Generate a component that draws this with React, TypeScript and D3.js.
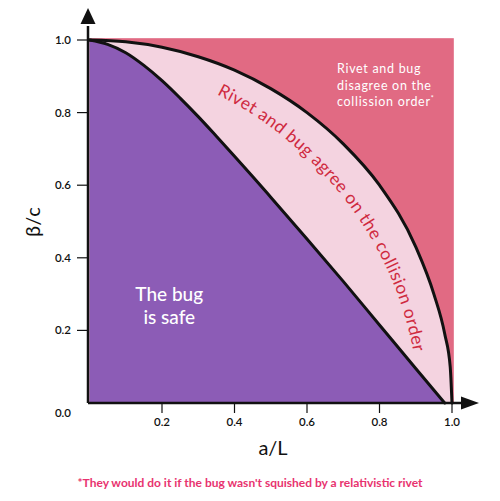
import React from 'react';
import * as d3 from 'd3';

// boundary where rivet and bug stop agreeing
const outerA = [0, 0.1, 0.2, 0.3, 0.4, 0.5, 0.6, 0.7, 0.8, 0.9, 0.95, 0.98, 0.995, 1.0];
const outerB = [1.0, 0.995, 0.98, 0.954, 0.917, 0.866, 0.8, 0.714, 0.6, 0.43, 0.3, 0.19, 0.1, 0.0];

// boundary of the "bug is safe" region
const innerA = [0, 0.05, 0.1, 0.15, 0.2, 0.25, 0.3, 0.35, 0.4, 0.45, 0.5, 0.6, 0.7, 0.8, 0.9, 0.98];
const innerB = [1.0, 0.988, 0.965, 0.93, 0.888, 0.84, 0.789, 0.735, 0.68, 0.624, 0.567, 0.452, 0.335, 0.215, 0.095, 0.0];

// guide for the curved label in the middle band
const guideA = [0.351, 0.45, 0.55, 0.64, 0.72, 0.79, 0.85, 0.89, 0.91];
const guideB = [0.85, 0.795, 0.72, 0.635, 0.54, 0.43, 0.3, 0.16, 0.04];

const xTicks = [0.2, 0.4, 0.6, 0.8, 1.0];
const yTicks = [0.2, 0.4, 0.6, 0.8, 1.0];

const FONT = 'Lato, "Open Sans", sans-serif';
const PURPLE = '#8c5cb6';
const PINK = '#f4d3e0';
const RED = '#e16a83';
const INK = '#111';

const App: React.FC = () => {
  const x = d3.scaleLinear().domain([0, 1]).range([89.5, 452]);
  const y = d3.scaleLinear().domain([0, 1]).range([403, 40]);
  const fmt = d3.format('.1f');

  const outer = outerA.map((a, i) => [a, outerB[i]] as [number, number]);
  const inner = innerA.map((a, i) => [a, innerB[i]] as [number, number]);
  const guide = guideA.map((a, i) => [a, guideB[i]] as [number, number]);

  const area = d3.area<[number, number]>()
    .x(d => x(d[0]))
    .y0(y(0))
    .y1(d => y(d[1]))
    .curve(d3.curveMonotoneX);
  const line = d3.line<[number, number]>()
    .x(d => x(d[0]))
    .y(d => y(d[1]))
    .curve(d3.curveMonotoneX);
  const guideLine = d3.line<[number, number]>()
    .x(d => x(d[0]))
    .y(d => y(d[1]))
    .curve(d3.curveCatmullRom);

  const x0 = x(0) - 1.5;
  const yTop = y(1) - 16;
  const xEnd = x(1) + 9;
  const notes = ['Rivet and bug', 'disagree on the', 'collission order'];

  return (
    <svg width={500} height={501} style={{ position: 'absolute', left: 0, top: 0 }} fontFamily={FONT}>
      <defs>
        <path id="agreePath" d={guideLine(guide) || ''} />
      </defs>

      {/* regions */}
      <rect x={x(0)} y={y(1.005)} width={x(1.005) - x(0)} height={y(0) - y(1.005)} fill={RED} />
      <path d={area(outer) || ''} fill={PINK} />
      <path d={area(inner) || ''} fill={PURPLE} />
      <path d={line(outer) || ''} fill="none" stroke={INK} strokeWidth={3} strokeLinecap="round" />
      <path d={line(inner) || ''} fill="none" stroke={INK} strokeWidth={3} strokeLinecap="round" />

      {/* region labels */}
      <text x={x(0.22)} y={301} textAnchor="middle" fill="#fff" fontSize={19} fontWeight={500}>
        <tspan x={x(0.22)}>The bug</tspan>
        <tspan x={x(0.22)} dy={22.5}>is safe</tspan>
      </text>
      {notes.map((s, i) => (
        <text key={s} x={337} y={73 + i * 16.5} fill="#fff" fontSize={12.5} letterSpacing={0.7}>
          {s}
          {i === notes.length - 1 && <tspan fontSize={7} dy={-5}>*</tspan>}
        </text>
      ))}
      <text fill="#cf2a3f" fontSize={17.5}>
        <textPath href="#agreePath" startOffset={0} textLength={336} lengthAdjust="spacing">
          Rivet and bug agree on the collision order
        </textPath>
      </text>

      {/* axes */}
      <line x1={x0} x2={x0} y1={y(0)} y2={yTop + 2} stroke={INK} strokeWidth={2.5} />
      <line x1={x0} x2={xEnd} y1={y(0)} y2={y(0)} stroke={INK} strokeWidth={2.5} />
      <path d={`M${x0},${yTop - 16}L${x0 + 7.5},${yTop}L${x0 - 7.5},${yTop}Z`} fill={INK} />
      <path d={`M${xEnd + 18},${y(0)}L${xEnd},${y(0) - 6.5}L${xEnd},${y(0) + 6.5}Z`} fill={INK} />

      {yTicks.map(t => (
        <g key={`y${t}`}>
          <line x1={x0 - 11} x2={x0} y1={y(t)} y2={y(t)} stroke={INK} strokeWidth={1.2} />
          <text x={71} y={y(t)} dy="0.35em" textAnchor="end" fontSize={11.5} fontWeight={600} fill={INK}>{fmt(t)}</text>
        </g>
      ))}
      <text x={71} y={y(0) + 10} dy="0.35em" textAnchor="end" fontSize={11.5} fontWeight={600} fill={INK}>{fmt(0)}</text>
      {xTicks.map(t => (
        <g key={`x${t}`}>
          <line x1={x(t)} x2={x(t)} y1={y(0)} y2={y(0) + 10} stroke={INK} strokeWidth={1.2} />
          <text x={x(t)} y={422} dy="0.35em" textAnchor="middle" fontSize={11.5} fontWeight={600} fill={INK}>{fmt(t)}</text>
        </g>
      ))}

      {/* axis titles */}
      <text transform="translate(40,222) rotate(-90)" textAnchor="middle" fontSize={20} fill={INK}>β/c</text>
      <text x={273} y={455} textAnchor="middle" fontSize={20} fill={INK}>a/L</text>

      <text x={250} y={487} textAnchor="middle" fontSize={12} fontWeight={700} fill="#e8336f">
        *They would do it if the bug wasn't squished by a relativistic rivet
      </text>
    </svg>
  );
};

export default App;
